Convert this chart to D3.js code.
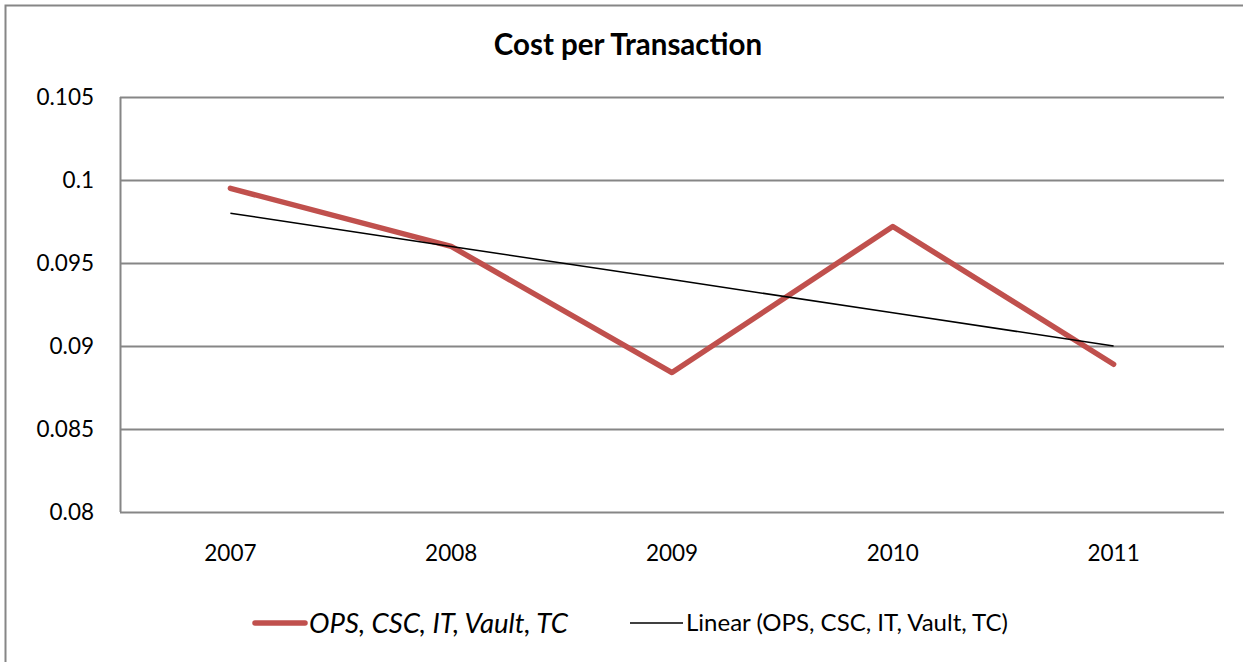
<!DOCTYPE html>
<html>
<head>
<meta charset="utf-8">
<script src="https://cdn.jsdelivr.net/npm/d3@7"></script>
<style>
  body { margin: 0; background: #fff; }
  svg { display: block; font-family: Lato, "Open Sans", sans-serif; }
</style>
</head>
<body>
<div id="chart"></div>
<script>
// data
const years = ["2007", "2008", "2009", "2010", "2011"];
const costs = [0.0995, 0.0960, 0.0884, 0.0972, 0.0889];
const yTicks = [0.08, 0.085, 0.09, 0.095, 0.1, 0.105];
const seriesName = "OPS, CSC, IT, Vault, TC";

const W = 1243, H = 662;
const margin = {top: 97, right: 19, bottom: 150, left: 120};

const svg = d3.select("#chart").append("svg")
    .attr("width", W)
    .attr("height", H);

// outer chart border (runs off the right and bottom of the picture)
svg.append("rect")
    .attr("x", 5.5).attr("y", 5.5)
    .attr("width", W + 10).attr("height", H + 10)
    .attr("fill", "none")
    .attr("stroke", "#868686")
    .attr("stroke-width", 2);

const x = d3.scaleBand()
    .domain(years)
    .range([margin.left, W - margin.right]);

const y = d3.scaleLinear()
    .domain([0.08, 0.105])
    .range([H - margin.bottom, margin.top]);

// title
svg.append("text")
    .attr("x", 628).attr("y", 55)
    .attr("text-anchor", "middle")
    .style("font-size", "29.5px")
    .style("font-weight", "bold")
    .text("Cost per Transaction");

// gridlines
svg.append("g")
    .selectAll("line")
    .data(yTicks)
    .join("line")
    .attr("x1", margin.left).attr("x2", W - margin.right)
    .attr("y1", d => Math.round(y(d)) + 0.5)
    .attr("y2", d => Math.round(y(d)) + 0.5)
    .attr("stroke", "#868686")
    .attr("stroke-width", 2);

// left axis line
svg.append("line")
    .attr("x1", margin.left + 0.5).attr("x2", margin.left + 0.5)
    .attr("y1", y(0.105)).attr("y2", y(0.08))
    .attr("stroke", "#868686")
    .attr("stroke-width", 2);

// y labels
svg.append("g")
    .selectAll("text")
    .data(yTicks)
    .join("text")
    .attr("x", 94)
    .attr("y", d => y(d))
    .attr("dy", "0.35em")
    .attr("text-anchor", "end")
    .style("font-size", "22.5px")
    .text(d => d3.format("")(+d.toFixed(3)));

// x labels
svg.append("g")
    .selectAll("text")
    .data(years)
    .join("text")
    .attr("x", d => x(d) + x.bandwidth() / 2)
    .attr("y", 553)
    .attr("dy", "0.35em")
    .attr("text-anchor", "middle")
    .style("font-size", "22.5px")
    .text(d => d);

// linear trend (least squares over the series)
const idx = costs.map((d, i) => i);
const mx = d3.mean(idx), my = d3.mean(costs);
const slope = d3.sum(idx, i => (i - mx) * (costs[i] - my)) / d3.sum(idx, i => (i - mx) ** 2);
const trend = idx.map(i => my + slope * (i - mx));

const line = d3.line()
    .x((d, i) => x(years[i]) + x.bandwidth() / 2)
    .y(d => y(d));

svg.append("path")
    .datum(costs)
    .attr("d", line)
    .attr("fill", "none")
    .attr("stroke", "#C0504D")
    .attr("stroke-width", 5.5)
    .attr("stroke-linejoin", "round")
    .attr("stroke-linecap", "round");

svg.append("path")
    .datum(trend)
    .attr("d", line)
    .attr("fill", "none")
    .attr("stroke", "#000")
    .attr("stroke-width", 1.5);

// legend
const ly = 623;
svg.append("line")
    .attr("x1", 255).attr("x2", 305)
    .attr("y1", ly).attr("y2", ly)
    .attr("stroke", "#C0504D")
    .attr("stroke-width", 5.5)
    .attr("stroke-linecap", "round");
svg.append("text")
    .attr("x", 309).attr("y", ly)
    .attr("dy", "0.35em")
    .style("font-size", "27.5px")
    .style("font-style", "italic")
    .text(seriesName);

svg.append("line")
    .attr("x1", 630).attr("x2", 683)
    .attr("y1", ly).attr("y2", ly)
    .attr("stroke", "#000")
    .attr("stroke-width", 1.5);
svg.append("text")
    .attr("x", 686).attr("y", ly)
    .attr("dy", "0.35em")
    .style("font-size", "24px")
    .text("Linear (" + seriesName + ")");
</script>
</body>
</html>
